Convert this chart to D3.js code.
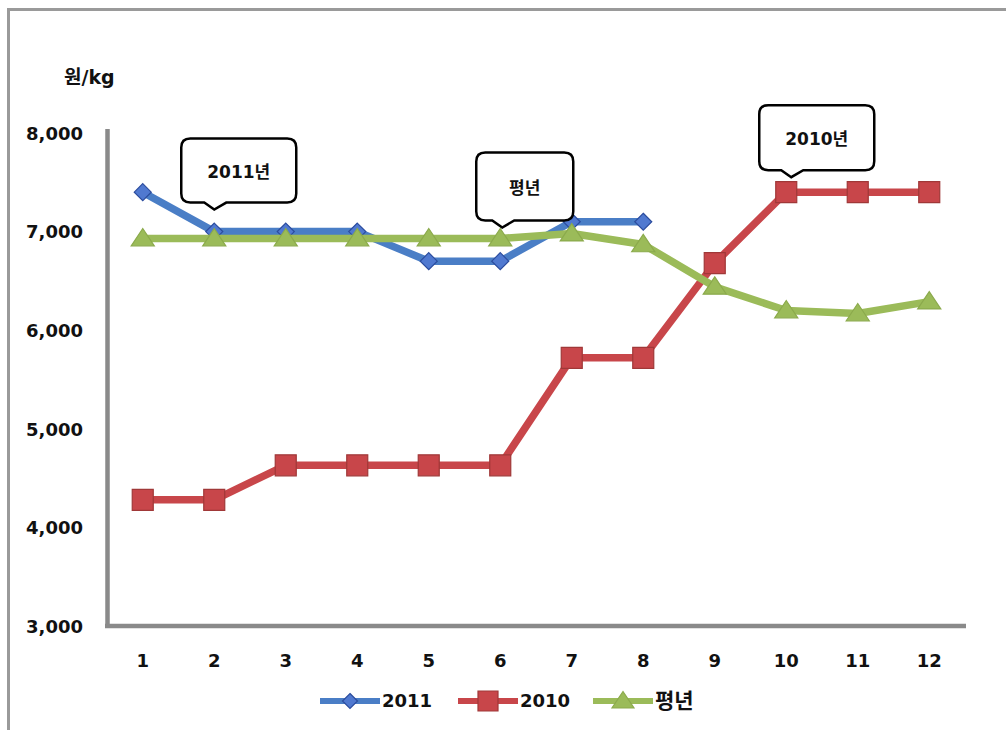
<!DOCTYPE html>
<html><head><meta charset="utf-8">
<script src="https://cdn.jsdelivr.net/npm/d3@7"></script>
<style>
html,body{margin:0;padding:0;background:#fff;}
svg{display:block;}
</style></head>
<body>
<svg id="chart" width="1006" height="730"></svg>
<script>
// ---- data ----
const months = [1,2,3,4,5,6,7,8,9,10,11,12];
const series2011 = [7400,7000,7000,7000,6700,6700,7100,7100,null,null,null,null];
const series2010 = [4280,4280,4630,4630,4630,4630,5720,5720,6680,7400,7400,7400];
const seriesNormal = [6930,6930,6930,6930,6930,6930,6980,6870,6440,6200,6170,6290];
const yTicks = [3000,4000,5000,6000,7000,8000];
const seriesNames = ["2011","2010","평년"];
const yUnit = "원/kg";
const callouts = [
  {label:"2011년", series:0, month:2},
  {label:"평년", series:2, month:6},
  {label:"2010년", series:1, month:10}
];

// ---- drawing ----
const svg = d3.select("#chart");
const numFont = "'DejaVu Sans','Noto Sans CJK KR',sans-serif";
const krFont = "'DejaVu Sans','Noto Sans CJK KR',sans-serif";

// outer frame (extends beyond right/bottom)
svg.append("rect").attr("x",8.5).attr("y",9.5).attr("width",1010).attr("height",740)
  .attr("fill","#fff").attr("stroke","#9a9a9a").attr("stroke-width",3);

const x = d3.scaleBand().domain(months).range([107,965]);
const y = d3.scaleLinear().domain([3000,8000]).range([626,133]);
const cx = m => x(m) + x.bandwidth()/2;

// axes lines
svg.append("line").attr("x1",107.5).attr("x2",107.5).attr("y1",129).attr("y2",628)
  .attr("stroke","#8a8a8a").attr("stroke-width",4.5);
svg.append("line").attr("x1",105).attr("x2",966).attr("y1",y(3000)).attr("y2",y(3000))
  .attr("stroke","#8a8a8a").attr("stroke-width",4.5);

// y tick labels
const yAxis = d3.axisLeft(y).tickValues(yTicks).tickFormat(d3.format(",")).tickSize(0).tickPadding(0);
const ya = svg.append("g").attr("transform","translate(83,0)").call(yAxis);
ya.select(".domain").remove();
ya.selectAll("text").attr("font-family",numFont).attr("font-weight","bold")
  .attr("font-size",18).attr("fill","#111").attr("dy","0.35em");

// x tick labels
const xAxis = d3.axisBottom(x).tickSize(0).tickPadding(0);
const xa = svg.append("g").attr("transform","translate(0,661)").call(xAxis);
xa.select(".domain").remove();
xa.selectAll("text").attr("font-family",numFont).attr("font-weight","bold")
  .attr("font-size",18).attr("fill","#111").attr("dy","0.35em");

// unit label
svg.append("text").attr("x",64).attr("y",84).text(yUnit)
  .attr("font-family",krFont).attr("font-weight","bold").attr("font-size",19).attr("fill","#111");

const styles = [
  {line:"#4A7EC6", fill:"#5079D0", stroke:"#2B4C9E", marker:"diamond"},
  {line:"#C8464A", fill:"#C8464A", stroke:"#A03838", marker:"square"},
  {line:"#9BBB59", fill:"#9BBB59", stroke:"#8BAA4C", marker:"triangle"}
];
const allSeries = [series2011, series2010, seriesNormal];

function markerPath(type, s){
  if(type==="diamond") return `M0,${-s} L${s},0 L0,${s} L${-s},0 Z`;
  if(type==="square") return `M${-s},${-s} H${s} V${s} H${-s} Z`;
  return `M0,${-s*0.95} L${s*1.1},${s*0.7} L${-s*1.1},${s*0.7} Z`;
}
const markerSize = {diamond:8.5, square:10.5, triangle:10.5};

const lineGen = d3.line().defined(d=>d.v!=null).x(d=>cx(d.m)).y(d=>y(d.v));

allSeries.forEach((vals,i)=>{
  const st = styles[i];
  const pts = months.map((m,k)=>({m, v:vals[k]}));
  svg.append("path").datum(pts).attr("d",lineGen).attr("fill","none")
    .attr("stroke",st.line).attr("stroke-width",7.5).attr("stroke-linejoin","round");
  svg.append("g").selectAll("path").data(pts.filter(d=>d.v!=null)).join("path")
    .attr("transform",d=>`translate(${cx(d.m)},${y(d.v)})`)
    .attr("d",markerPath(st.marker, markerSize[st.marker]))
    .attr("fill",st.fill).attr("stroke",st.stroke).attr("stroke-width",1.2);
});

// callouts
const calloutLayout = [
  {w:115, h:64, tipDx:0, tipDy:-22, leftFromTip:-33},
  {w:97,  h:68, tipDx:2, tipDy:-11, leftFromTip:-26},
  {w:115, h:65, tipDx:5, tipDy:-15, leftFromTip:-32}
];
callouts.forEach((c,i)=>{
  const L = calloutLayout[i];
  const v = allSeries[c.series][c.month-1];
  const tx = cx(c.month)+L.tipDx, ty = y(v)+L.tipDy;
  const bottom = ty-7, top = bottom-L.h, left = tx+L.leftFromTip, right = left+L.w;
  const r = 9;
  const p = d3.path();
  p.moveTo(left+r, top);
  p.lineTo(right-r, top);
  p.quadraticCurveTo(right, top, right, top+r);
  p.lineTo(right, bottom-r);
  p.quadraticCurveTo(right, bottom, right-r, bottom);
  p.lineTo(tx+12, bottom);
  p.lineTo(tx, ty);
  p.lineTo(tx-10, bottom);
  p.lineTo(left+r, bottom);
  p.quadraticCurveTo(left, bottom, left, bottom-r);
  p.lineTo(left, top+r);
  p.quadraticCurveTo(left, top, left+r, top);
  p.closePath();
  svg.append("path").attr("d",p.toString()).attr("fill","#fff")
    .attr("stroke","#000").attr("stroke-width",2.5);
  svg.append("text").attr("x",(left+right)/2).attr("y",(top+bottom)/2+2)
    .attr("text-anchor","middle").attr("dominant-baseline","middle")
    .attr("font-family",krFont).attr("font-weight","bold").attr("font-size",17)
    .attr("fill","#111").text(c.label);
});

// legend
const legendItems = [{x:320},{x:458},{x:593}];
legendItems.forEach((li,i)=>{
  const st = styles[i];
  const g = svg.append("g").attr("transform",`translate(${li.x},701)`);
  g.append("line").attr("x1",0).attr("x2",60).attr("y1",0).attr("y2",0)
    .attr("stroke",st.line).attr("stroke-width",6);
  const ms = st.marker==="diamond"?7.5:10;
  g.append("path").attr("transform","translate(30,0)").attr("d",markerPath(st.marker,ms))
    .attr("fill",st.fill).attr("stroke",st.stroke).attr("stroke-width",1.2);
  g.append("text").attr("x",62).attr("y",0).attr("dy","0.35em").text(seriesNames[i])
    .attr("font-family",krFont).attr("font-weight","bold")
    .attr("font-size", i===2?21:18).attr("fill","#111");
});
</script>
</body></html>
